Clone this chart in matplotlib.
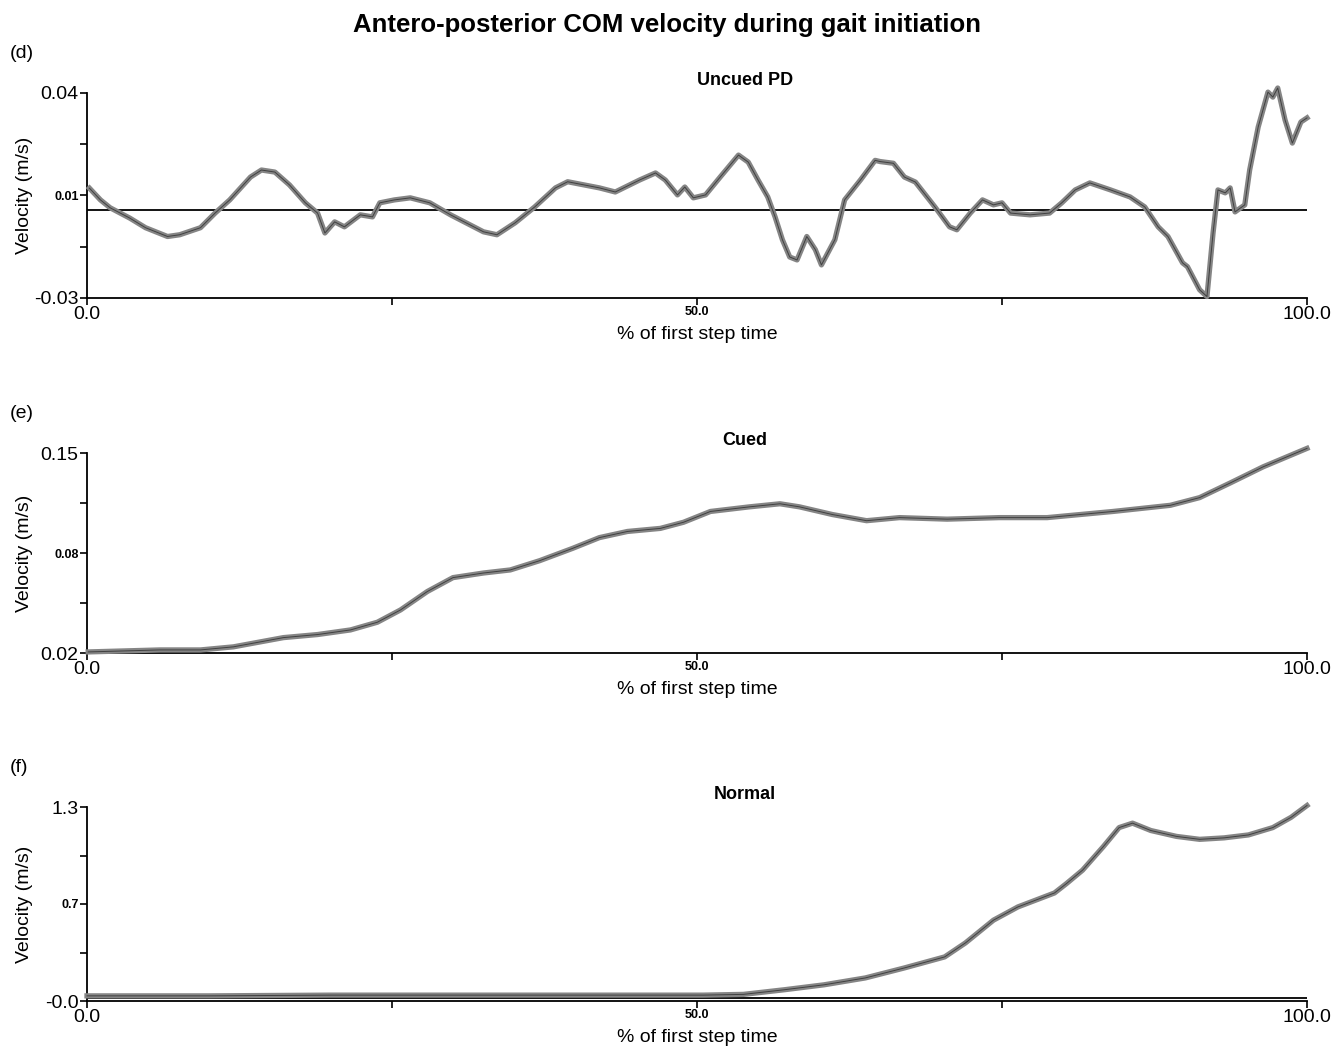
import numpy as np
import matplotlib
matplotlib.use("Agg")
import matplotlib.pyplot as plt

plt.rcParams['font.family'] = ['Liberation Sans', 'DejaVu Sans']

# (d) Uncued PD
pct_d = [0.2, 1.1, 1.9, 3.5, 4.8, 6.6, 7.6, 9.3, 10.5, 11.7, 13.4, 14.3, 15.4, 16.6,
         17.9, 18.9, 19.5, 20.3, 21.1, 22.4, 23.4, 24.0, 25.2, 26.5, 28.1, 29.8, 32.5,
         33.6, 35.1, 36.7, 38.4, 39.4, 42.0, 43.3, 45.3, 46.6, 47.4, 48.4, 49.0, 49.7,
         50.7, 51.9, 53.4, 54.2, 55.0, 55.8, 56.4, 57.0, 57.6, 58.2, 59.0, 59.7, 60.2,
         61.3, 62.1, 63.4, 64.6, 65.0, 66.1, 67.0, 67.9, 69.5, 70.7, 71.3, 72.4, 73.4,
         74.3, 75.0, 75.7, 77.3, 78.9, 79.9, 81.0, 82.2, 83.9, 85.5, 86.7, 87.8, 88.6,
         89.8, 90.2, 91.2, 91.8, 92.3, 92.7, 93.3, 93.7, 94.1, 94.9, 95.3, 96.0, 96.8,
         97.2, 97.6, 98.2, 98.8, 99.5, 100.0]
vel_d = [0.0075, 0.0035, 0.0008, -0.0027, -0.006, -0.009, -0.0084, -0.006, -0.001,
         0.0035, 0.0113, 0.0137, 0.013, 0.0086, 0.0025, -0.001, -0.0078, -0.004, -0.0057,
         -0.0016, -0.0023, 0.0025, 0.0035, 0.0042, 0.0025, -0.0016, -0.0074, -0.0084,
         -0.0043, 0.0011, 0.0076, 0.0097, 0.0076, 0.0062, 0.0103, 0.0127, 0.0103, 0.0052,
         0.0079, 0.0042, 0.0052, 0.0113, 0.0188, 0.0164, 0.0103, 0.0045, -0.0023, -0.0101,
         -0.016, -0.017, -0.009, -0.0135, -0.0187, -0.0101, 0.0035, 0.0103, 0.017, 0.0166,
         0.016, 0.0113, 0.0096, 0.0011, -0.0057, -0.0067, -0.001, 0.0035, 0.0018, 0.0025,
         -0.001, -0.0016, -0.001, 0.0025, 0.0069, 0.0093, 0.0069, 0.0045, 0.0011, -0.0057,
         -0.009, -0.018, -0.0193, -0.0272, -0.0295, -0.0078, 0.0069, 0.0059, 0.0076,
         -0.0006, 0.0018, 0.0137, 0.0284, 0.0403, 0.0386, 0.0417, 0.0308, 0.0229, 0.0301,
         0.0315]

# (e) Cued
pct_e = [0.1, 6.0, 9.3, 12.0, 16.1, 18.9, 21.6, 23.8, 25.7, 27.9, 30.0, 32.5, 34.7,
         37.1, 39.8, 42.0, 44.3, 47.0, 48.9, 51.1, 54.3, 56.8, 58.4, 61.1, 63.9, 66.6,
         70.5, 74.8, 78.7, 84.1, 88.8, 91.2, 93.7, 96.4, 100.0]
vel_e = [0.0207, 0.022, 0.022, 0.024, 0.030, 0.032, 0.035, 0.040, 0.048, 0.060, 0.069,
         0.072, 0.074, 0.080, 0.088, 0.095, 0.099, 0.101, 0.105, 0.112, 0.115, 0.117,
         0.115, 0.110, 0.106, 0.108, 0.107, 0.108, 0.108, 0.112, 0.116, 0.121, 0.1305,
         0.141, 0.153]

# (f) Normal
pct_f = [0.0, 10.0, 20.0, 30.0, 40.0, 50.5, 53.8, 57.1, 60.4, 63.8, 67.0, 70.3, 72.0,
         74.3, 76.3, 79.3, 80.3, 81.6, 83.3, 84.6, 85.7, 87.2, 89.3, 91.2, 93.2, 95.2,
         97.2, 98.7, 100.0]
vel_f = [0.015, 0.015, 0.02, 0.02, 0.02, 0.02, 0.025, 0.056, 0.09, 0.137, 0.205, 0.28,
         0.375, 0.53, 0.62, 0.715, 0.78, 0.87, 1.03, 1.16, 1.19, 1.14, 1.10, 1.08, 1.09,
         1.11, 1.16, 1.23, 1.31]

panels = [
    ("(d)", "Uncued PD", pct_d, vel_d, (-0.03, 0.04), ["-0.03", "0.01", "0.04"], 0.0),
    ("(e)", "Cued", pct_e, vel_e, (0.02, 0.15), ["0.02", "0.08", "0.15"], None),
    ("(f)", "Normal", pct_f, vel_f, (-0.02, 1.3), ["-0.0", "0.7", "1.3"], 0.0),
]
# axes boxes in pixels: top, bottom
boxes = [(93, 298), (453, 653), (807, 1001)]
W, H = 1334, 1057
left, right = 87, 1307

fig = plt.figure(figsize=(W / 100, H / 100), dpi=100)
fig.text(0.5, 1 - 25 / H, "Antero-posterior COM velocity during gait initiation",
         ha="center", va="center", fontsize=18.5, fontweight="bold")

for (tag, name, xs, ys, lim, ylabs, base), (top, bot) in zip(panels, boxes):
    ax = fig.add_axes([left / W, 1 - bot / H, (right - left) / W, (bot - top) / H])
    ax.plot(xs, ys, color="#858585", lw=3.8, solid_joinstyle="round", clip_on=False, zorder=3)
    ax.plot(xs, ys, color="#404040", lw=0.7, clip_on=False, zorder=4)
    if base is not None:
        ax.axhline(base, color="black", lw=1.3, zorder=2)
    ax.set_xlim(0, 100)
    ax.set_ylim(*lim)
    for s in ["top", "right"]:
        ax.spines[s].set_visible(False)
    ax.spines["left"].set_linewidth(1.3)
    ax.spines["bottom"].set_linewidth(1.3)

    yt = np.linspace(lim[0], lim[1], 5)
    ax.set_yticks(yt)
    ax.set_yticklabels([ylabs[0], "", ylabs[1], "", ylabs[2]])
    ax.set_xticks([0, 25, 50, 75, 100])
    ax.set_xticklabels(["0.0", "", "50.0", "", "100.0"])
    ax.tick_params(axis="both", direction="out", length=5, width=1.2, labelsize=14, pad=1)
    ylbls = ax.get_yticklabels()
    ylbls[2].set_fontsize(9)
    ylbls[2].set_fontweight("bold")
    xlbls = ax.get_xticklabels()
    xlbls[2].set_fontsize(9)
    xlbls[2].set_fontweight("bold")

    ax.set_ylabel("Velocity (m/s)", fontsize=14)
    ax.yaxis.set_label_coords(-0.044, 0.5)
    ax.set_xlabel("% of first step time", fontsize=14, labelpad=2)
    ax.set_title(name, fontsize=13, fontweight="bold", pad=6, x=0.539)
    fig.text(10 / W, 1 - (top - 40) / H, tag, fontsize=14, ha="left", va="center")

fig.savefig("out.png", dpi=100)
